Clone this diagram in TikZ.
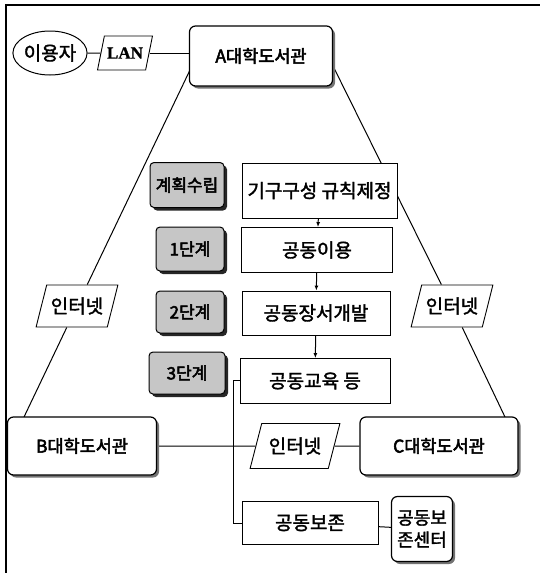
\documentclass[tikz,border=0pt]{standalone}
\usepackage{fontspec}
\newfontfamily\kr{Noto Sans CJK KR}[FakeBold=3]
\newfontfamily\krl{Noto Sans CJK KR}[FakeBold=1.8]
\newfontfamily\lserif{Liberation Serif}[FakeBold=1]
\usetikzlibrary{shapes.geometric,shadows,backgrounds,arrows.meta}
\begin{document}
\begin{tikzpicture}[x=1pt,y=1pt,
  lib/.style={draw,line width=1.2pt,rounded corners=6pt,fill=white,
    drop shadow={shadow xshift=2.5pt,shadow yshift=-2.5pt,fill=black!55,opacity=1},
    font=\kr\fontsize{17.5}{19}\selectfont,inner sep=2pt},
  stage/.style={draw,line width=0.9pt,fill=white,font=\krl\fontsize{19}{21}\selectfont,inner sep=1pt},
  stepbox/.style={draw,line width=1pt,rounded corners=4pt,fill=gray!45,
    drop shadow={shadow xshift=3pt,shadow yshift=-3pt,fill=black!85,opacity=1},
    font=\kr\fontsize{17}{19}\selectfont,inner sep=0pt},
  net/.style={draw,line width=0.9pt,fill=white,trapezium,trapezium left angle=62,trapezium right angle=118,
    trapezium stretches=true,inner sep=0pt,font=\krl\fontsize{19}{21}\selectfont},
  conn/.style={line width=1pt},
  arr/.style={line width=1pt,-{Latex[length=5pt,width=4pt]}}
]
\useasboundingbox (0,0) rectangle (540,-573);
% frame
\draw[line width=1.5pt] (6,-573) -- (6,-5) -- (540,-5);

% top row
\node[draw,ellipse,line width=1pt,minimum width=72,minimum height=44,inner sep=0pt,
  font=\krl\fontsize{19}{21}\selectfont] (user) at (50,-53) {이용자};
\node[net,minimum width=55,minimum height=34,font=\lserif\bfseries\fontsize{17}{19}\selectfont] (lan) at (125,-53) {LAN};
\node[lib,minimum width=143,minimum height=60] (A) at (261,-56) {A대학도서관};

% libraries
\node[lib,minimum width=149,minimum height=58] (B) at (82,-446) {B대학도서관};
\node[lib,minimum width=158,minimum height=58] (C) at (439,-446) {C대학도서관};

% internets
\node[net,minimum width=82,minimum height=42] (inL) at (77,-306) {인터넷};
\node[net,minimum width=82,minimum height=42] (inR) at (452,-306) {인터넷};
\node[net,minimum width=90,minimum height=45] (inM) at (295,-446) {인터넷};

% stages
\node[stage,minimum width=155,minimum height=55] (e1) at (319.5,-190.5) {기구구성 규칙제정};
\node[stage,minimum width=151,minimum height=45] (e2) at (317,-250) {공동이용};
\node[stage,minimum width=148,minimum height=44] (e3) at (316,-313) {공동장서개발};
\node[stage,minimum width=150,minimum height=45] (e4) at (315,-381) {공동교육 등};
\node[stage,minimum width=136,minimum height=43] (pres) at (310,-523) {공동보존};
\node[lib,minimum width=61,minimum height=65,align=center,inner sep=0pt,font=\krl\fontsize{18}{22}\selectfont] (pc) at (422,-529) {공동보\\존센터};

% step labels
\node[stepbox,minimum width=74,minimum height=45] (s0) at (187,-185) {계획수립};
\node[stepbox,minimum width=68,minimum height=44] (s1) at (190,-249) {1단계};
\node[stepbox,minimum width=68,minimum height=42] (s2) at (190,-312) {2단계};
\node[stepbox,minimum width=76,minimum height=42] (s3) at (187,-373) {3단계};

\coordinate (a1) at (190,-70);
\coordinate (b1) at (24,-417);
\coordinate (a2) at (333,-66);
\coordinate (c1) at (505,-417);
\coordinate (j) at (233,-380);

\begin{scope}[on background layer]
  \draw[conn] (a1) -- (inL) -- (b1);
  \draw[conn] (a2) -- (inR) -- (c1);
  \draw[conn] (B) -- (inM) -- (C);
  \draw[conn] (j) |- (pres.west);
\end{scope}
\draw[conn] (user) -- (lan);
\draw[conn] (lan.east) -- (lan.east -| A.west);
\draw[conn] (j) -- (j -| e4.west);
\draw[conn] (pres) -- (pc);
\draw[arr] (e1) -- (e2);
\draw[arr] (e2) -- (e3);
\draw[arr] (e3) -- (e4);
\end{tikzpicture}
\end{document}
